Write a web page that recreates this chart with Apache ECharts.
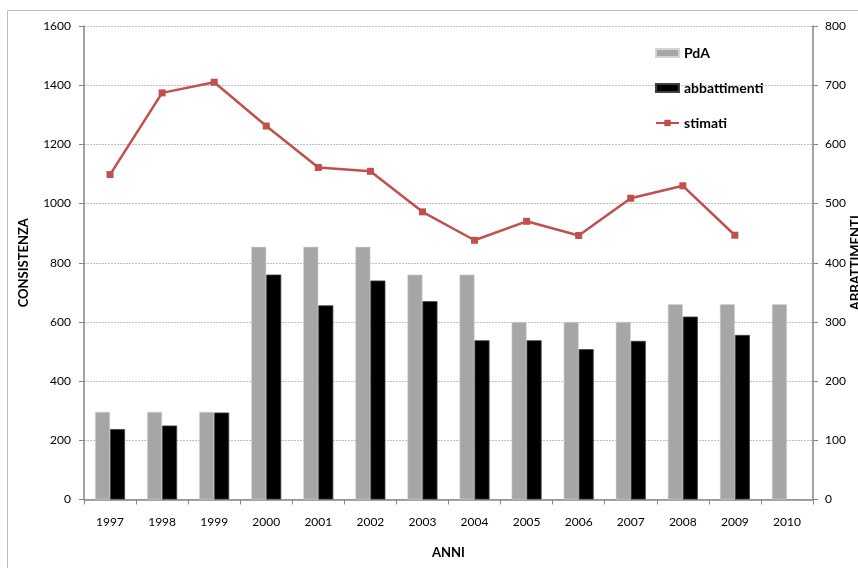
<!DOCTYPE html>
<html>
<head>
<meta charset="utf-8">
<script src="https://cdn.jsdelivr.net/npm/echarts@6/dist/echarts.min.js"></script>
<style>
  html, body { margin: 0; padding: 0; background: #fff; }
  #chart { width: 858px; height: 568px; }
</style>
</head>
<body>
<div id="chart"></div>
<script>
// Years on the category axis
const anni = ['1997', '1998', '1999', '2000', '2001', '2002', '2003', '2004', '2005', '2006', '2007', '2008', '2009', '2010'];

// Planned culls (PdA) and actual culls, right axis
const pda = [148, 148, 148, 427, 427, 427, 380, 380, 300, 300, 300, 330, 330, 330];
const abbattimenti = [119, 125, 147, 380, 328, 370, 335, 269, 269, 254, 268, 309, 278, null];

// Estimated population, left axis
const stimati = [1098, 1374, 1410, 1262, 1122, 1109, 972, 876, 940, 892, 1018, 1060, 893, null];

// Axis ranges
const leftMax = 1600, leftStep = 200;
const rightMax = 800, rightStep = 100;

const FONT = 'Lato, "Liberation Sans", sans-serif';
const axisGrey = '#868686';
const plain = v => String(v);

const chart = echarts.init(document.getElementById('chart'), null, { renderer: 'canvas' });

chart.setOption({
  animation: false,
  backgroundColor: '#fff',
  textStyle: { fontFamily: FONT },
  graphic: [{
    type: 'rect',
    shape: { x: 7.5, y: 10.5, width: 900, height: 600 },
    style: { fill: 'none', stroke: '#bdbdbd', lineWidth: 1 },
    silent: true,
    z: -1
  }],
  grid: { left: 84, right: 45, top: 26, bottom: 68.5, containLabel: false, outerBoundsMode: 'none' },
  legend: {
    orient: 'vertical',
    left: 655,
    top: 46,
    padding: 0,
    itemGap: 21,
    itemWidth: 23,
    itemHeight: 8,
    textStyle: { fontFamily: FONT, fontSize: 14, fontWeight: 'bold', color: '#000' },
    data: [
      { name: 'PdA', icon: 'rect' },
      { name: 'abbattimenti', icon: 'rect' },
      { name: 'stimati' }
    ]
  },
  xAxis: {
    type: 'category',
    data: anni,
    name: 'ANNI',
    nameLocation: 'middle',
    nameGap: 47,
    nameTextStyle: { fontFamily: FONT, fontSize: 13, fontWeight: 'bold', color: '#000' },
    axisLine: { lineStyle: { color: axisGrey, width: 1.5 } },
    axisTick: { show: true, alignWithLabel: false, length: 5, lineStyle: { color: axisGrey } },
    axisLabel: { fontFamily: FONT, fontSize: 12, color: '#000', margin: 17 },
    splitLine: { show: false }
  },
  yAxis: [
    {
      type: 'value',
      position: 'left',
      min: 0, max: leftMax, interval: leftStep,
      name: 'CONSISTENZA',
      nameLocation: 'middle',
      nameRotate: 90,
      nameGap: 54,
      nameTextStyle: { fontFamily: FONT, fontSize: 13, fontWeight: 'bold', color: '#000' },
      axisLine: { show: true, lineStyle: { color: axisGrey, width: 1.5 } },
      axisTick: { show: true, length: 5, lineStyle: { color: axisGrey } },
      axisLabel: { fontFamily: FONT, fontSize: 12, color: '#000', margin: 13, formatter: plain },
      splitLine: { show: true, lineStyle: { color: '#bfbfbf', type: [2, 1], width: 1 } }
    },
    {
      type: 'value',
      position: 'right',
      min: 0, max: rightMax, interval: rightStep,
      name: 'ABBATTIMENTI',
      nameLocation: 'middle',
      nameRotate: 90,
      nameGap: 36,
      nameMoveOverlap: false,
      nameTextStyle: { fontFamily: FONT, fontSize: 13, fontWeight: 'bold', color: '#000' },
      axisLine: { show: true, lineStyle: { color: axisGrey, width: 1.5 } },
      axisTick: { show: true, length: 5, lineStyle: { color: axisGrey } },
      axisLabel: { fontFamily: FONT, fontSize: 12, color: '#000', margin: 12, formatter: plain },
      splitLine: { show: false }
    }
  ],
  series: [
    {
      name: 'PdA',
      type: 'bar',
      yAxisIndex: 1,
      data: pda,
      barWidth: 15,
      barGap: '0%',
      itemStyle: { color: '#a6a6a6', borderColor: '#d4d4d4', borderWidth: 0.6 }
    },
    {
      name: 'abbattimenti',
      type: 'bar',
      yAxisIndex: 1,
      data: abbattimenti,
      barWidth: 15,
      itemStyle: { color: '#000', borderColor: '#404040', borderWidth: 0.8 }
    },
    {
      name: 'stimati',
      type: 'line',
      yAxisIndex: 0,
      data: stimati,
      symbol: 'rect',
      symbolSize: 7,
      showAllSymbol: true,
      lineStyle: { color: '#c0504d', width: 2.5 },
      itemStyle: { color: '#c0504d' },
      z: 5
    }
  ]
});
</script>
</body>
</html>
